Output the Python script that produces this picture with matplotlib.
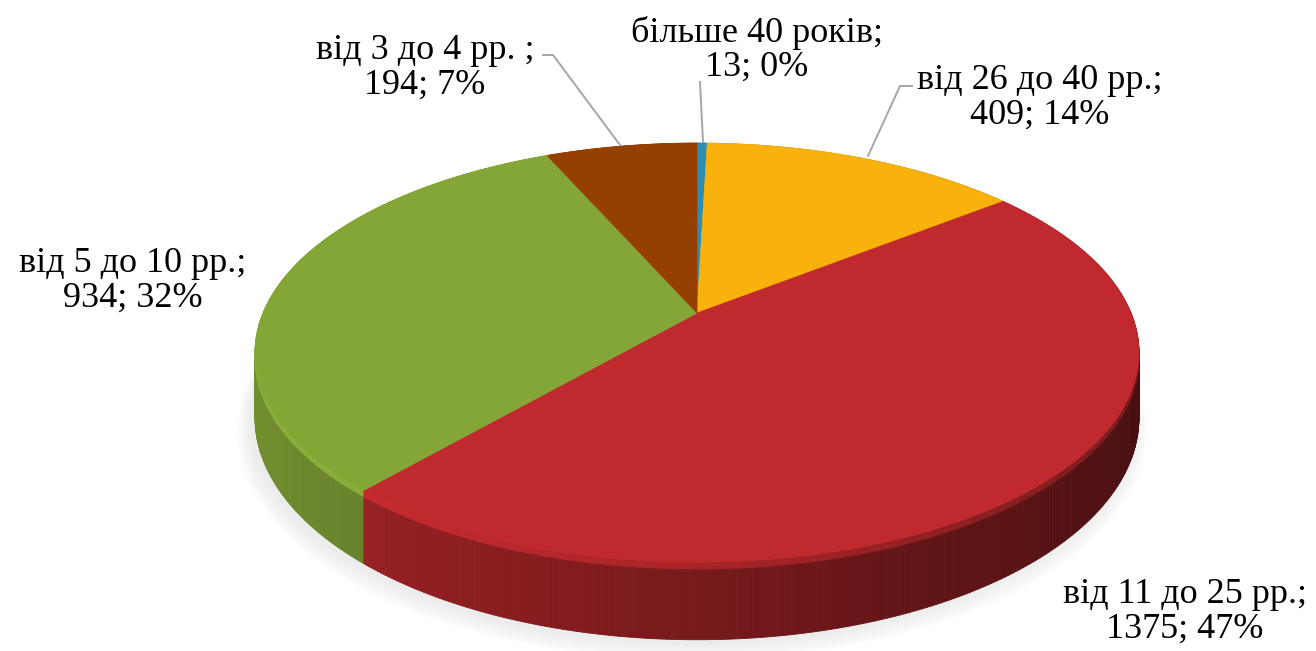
import numpy as np
import matplotlib.pyplot as plt
from matplotlib import font_manager
from matplotlib.patches import Polygon
from matplotlib.collections import PolyCollection
from matplotlib.colors import to_rgb

# pick a Times-like serif font
serif_names = [f.name for f in font_manager.fontManager.ttflist]
for name in ['Liberation Serif', 'Tinos', 'Times New Roman', 'DejaVu Serif']:
    if name in serif_names:
        plt.rcParams['font.family'] = [name, 'DejaVu Serif']
        break

# data
labels = ['більше 40 років', 'від 26 до 40 рр.', 'від 11 до 25 рр.', 'від 5 до 10 рр.', 'від 3 до 4 рр. ']
values = [13, 409, 1375, 934, 194]
colors = ['#2E8DB2', '#F9B10C', '#C0292D', '#84A637', '#954000']

# label centres and leader lines (pixel coords)
label_pos = [(757, 50), (1040, 98), (1185, 612), (133, 281), (425, 68)]
leaders = [[(703, 142), (700, 82)],
           [(868, 156), (900, 86), (912, 86)],
           None,
           None,
           [(620, 145), (553, 55), (543, 55)]]

# projection of the 3d disc (perspective, seen from the front and above)
CX, CY = 697, 313
A, B, K, H = 434, 202, 0.189, 63


def proj(t, z=0.0, r=1.0):
    u = r * np.cos(t)
    v = -r * np.sin(t)
    w = 1 - K * v
    return CX + A * u / w, CY + (B * v + H * z) / w


def shade(c, f):
    return tuple(np.clip(np.array(to_rgb(c)) * f, 0, 1))


fig = plt.figure(figsize=(13.16, 6.51), dpi=100)
ax = fig.add_axes([0, 0, 1, 1])
ax.set_xlim(0, 1316)
ax.set_ylim(651, 0)
ax.axis('off')

total = sum(values)
bounds = np.radians(90 - 360 * np.concatenate([[0], np.cumsum(values)]) / total)

# soft shadow under the disc
ts = np.linspace(0, 2 * np.pi, 400)
for i in range(8):
    x, y = proj(ts, 1.0, 1.0 + 0.004 * i)
    ax.add_patch(Polygon(np.c_[x - 5, y + 4 + i], closed=True, fc='#909090',
                         ec='none', alpha=0.02, zorder=1))

# outer walls, back to front
quads, qcols, keys = [], [], []
for i, c in enumerate(colors):
    t = np.linspace(bounds[i], bounds[i + 1], max(3, int(abs(bounds[i + 1] - bounds[i]) / 0.01)))
    for t0, t1 in zip(t[:-1], t[1:]):
        tm = (t0 + t1) / 2
        u, v = np.cos(tm), -np.sin(tm)
        f = 0.62 - 0.25 * u
        for z0, z1, ff in [(0.0, 0.1, min(1.05, f + 0.25)), (0.1, 1.0, f)]:
            xa, ya = proj(np.array([t0, t1]), z0)
            xb, yb = proj(np.array([t1, t0]), z1)
            quads.append(np.c_[np.r_[xa, xb], np.r_[ya, yb]])
            qcols.append(shade(c, ff))
            keys.append(v)
order = np.argsort(keys, kind='stable')
pc = PolyCollection([quads[j] for j in order], facecolors=[qcols[j] for j in order],
                    edgecolors=[qcols[j] for j in order], linewidths=0.6, zorder=2)
ax.add_collection(pc)

# top faces
for i, c in enumerate(colors):
    t = np.linspace(bounds[i], bounds[i + 1], max(3, int(abs(bounds[i + 1] - bounds[i]) / 0.01)))
    x, y = proj(t)
    ax.add_patch(Polygon(np.c_[np.r_[CX, x], np.r_[CY, y]], closed=True,
                         fc=c, ec=c, lw=0.5, zorder=3))

# labels
for i, (lab, val) in enumerate(zip(labels, values)):
    pct = round(100 * val / total)
    ax.text(label_pos[i][0], label_pos[i][1], f'{lab};\n{val}; {pct}%',
            ha='center', va='center', multialignment='center',
            fontsize=26, linespacing=1.05, zorder=5)
    if leaders[i]:
        p = np.array(leaders[i])
        ax.plot(p[:, 0], p[:, 1], color='#A6A6A6', lw=1.4, zorder=4)

fig.savefig('out.png', dpi=100)
